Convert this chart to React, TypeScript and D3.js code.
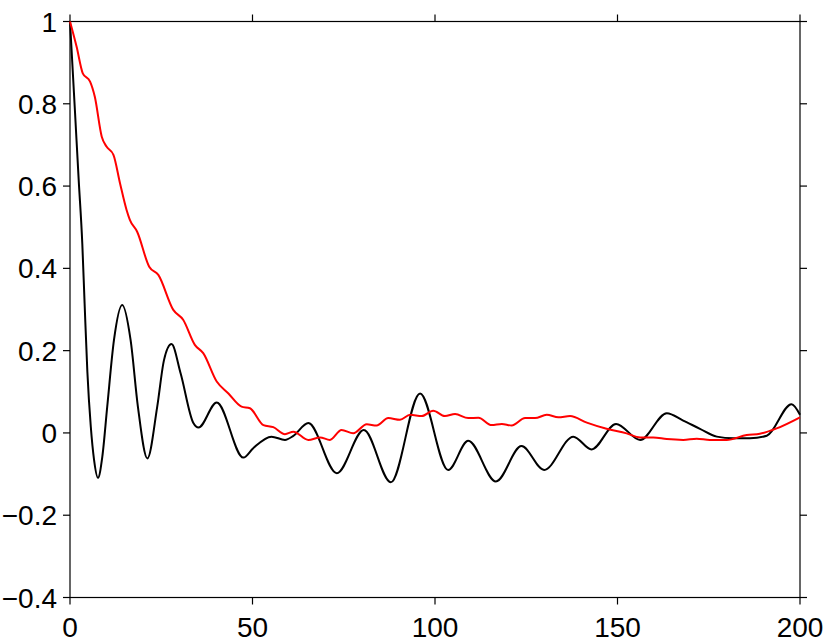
import React from "react";
import * as d3 from "d3";

const xTicks = [0, 50, 100, 150, 200];
const yTicks = [-0.4, -0.2, 0, 0.2, 0.4, 0.6, 0.8, 1];

const blackX = [0, 1.37, 2.38, 3.37, 4.0, 4.75, 5.7, 6.6, 7.67, 8.85, 10.2, 12.05, 14.3, 16.6, 18.6, 21.2, 23.9, 25.75, 27.8, 30.3, 33.8, 35.2, 40.2, 47.5, 50.2, 55.2, 58.9, 61.2, 65.3, 73.1, 80.5, 87.9, 95.9, 103.6, 109.1, 116.7, 123.7, 129.9, 137.9, 142.9, 149.6, 156.2, 163.5, 168.0, 172.6, 177.2, 181.7, 186.3, 190.9, 197.7, 200];
const blackY = [1, 0.78, 0.615, 0.46, 0.315, 0.15, 0.015, -0.066, -0.109, -0.058, 0.064, 0.226, 0.311, 0.226, 0.064, -0.062, 0.064, 0.177, 0.216, 0.145, 0.024, 0.013, 0.074, -0.06, -0.037, -0.009, -0.017, -0.007, 0.024, -0.098, 0.007, -0.12, 0.096, -0.09, -0.019, -0.118, -0.032, -0.09, -0.009, -0.04, 0.022, -0.017, 0.048, 0.03, 0.01, -0.009, -0.013, -0.013, -0.007, 0.07, 0.044];

const redX = [0, 1.8, 3.5, 5.5, 6.8, 8.7, 10.0, 11.9, 13.7, 15.5, 16.4, 18.4, 21.7, 24.2, 28.3, 31.0, 34.2, 36.5, 40.2, 43.4, 47.0, 49.3, 53.0, 55.7, 58.9, 61.2, 65.3, 68.5, 71.2, 74.4, 77.6, 81.3, 84.0, 87.2, 90.4, 93.2, 96.4, 99.5, 102.7, 105.5, 109.1, 111.9, 115.5, 118.3, 121.0, 124.7, 127.4, 130.6, 133.8, 137.0, 141.6, 147.0, 152.5, 156.2, 159.8, 163.5, 168.0, 171.7, 175.3, 179.9, 185.4, 189.0, 193.6, 200];
const redY = [1, 0.939, 0.874, 0.854, 0.817, 0.72, 0.696, 0.676, 0.607, 0.542, 0.518, 0.489, 0.404, 0.384, 0.299, 0.275, 0.214, 0.194, 0.125, 0.096, 0.064, 0.06, 0.019, 0.014, -0.003, 0.003, -0.017, -0.011, -0.017, 0.007, -0.001, 0.021, 0.018, 0.036, 0.032, 0.044, 0.041, 0.054, 0.041, 0.046, 0.036, 0.037, 0.019, 0.022, 0.018, 0.036, 0.036, 0.044, 0.038, 0.041, 0.025, 0.01, -0.001, -0.011, -0.011, -0.015, -0.017, -0.014, -0.017, -0.017, -0.005, -0.002, 0.011, 0.038];

const L = 70, R = 800, T = 21.5, B = 597.5;

export default function App() {
  const x = d3.scaleLinear().domain([0, 200]).range([L, R]);
  const y = d3.scaleLinear().domain([-0.4, 1]).range([B, T]);
  const line = d3
    .line<[number, number]>()
    .x((d) => x(d[0]))
    .y((d) => y(d[1]))
    .curve(d3.curveMonotoneX);
  const black = blackX.map((v, i) => [v, blackY[i]] as [number, number]);
  const red = redX.map((v, i) => [v, redY[i]] as [number, number]);
  const fmt = (v: number) => (v < 0 ? "\u2212" + String(Math.abs(v)) : String(v));
  const font = "'Liberation Sans', Arial, Helvetica, sans-serif";
  const tk = 7;
  return (
    <svg
      width={830}
      height={638}
      style={{ position: "absolute", left: 0, top: 0, background: "#fff" }}
    >
      <rect x={0} y={0} width={830} height={638} fill="#fff" />
      <g stroke="#000" strokeWidth={1.2} fill="none">
        <rect x={L} y={T} width={R - L} height={B - T} />
        {xTicks.map((t) => (
          <g key={"x" + t}>
            <line x1={x(t)} x2={x(t)} y1={B} y2={B + tk} />
            <line x1={x(t)} x2={x(t)} y1={T} y2={T - tk} />
          </g>
        ))}
        {yTicks.map((t) => (
          <g key={"y" + t}>
            <line x1={L} x2={L - tk} y1={y(t)} y2={y(t)} />
            <line x1={R} x2={R + tk} y1={y(t)} y2={y(t)} />
          </g>
        ))}
      </g>
      <g fontFamily={font} fontSize={28} fill="#000">
        {xTicks.map((t) => (
          <text key={"xl" + t} x={x(t)} y={637} textAnchor="middle">
            {fmt(t)}
          </text>
        ))}
        {yTicks.map((t) => (
          <text key={"yl" + t} x={57} y={y(t) + 10} textAnchor="end">
            {fmt(t)}
          </text>
        ))}
      </g>
      <path d={line(black) || ""} fill="none" stroke="#000" strokeWidth={2} />
      <path d={line(red) || ""} fill="none" stroke="#ff0000" strokeWidth={2} />
    </svg>
  );
}
